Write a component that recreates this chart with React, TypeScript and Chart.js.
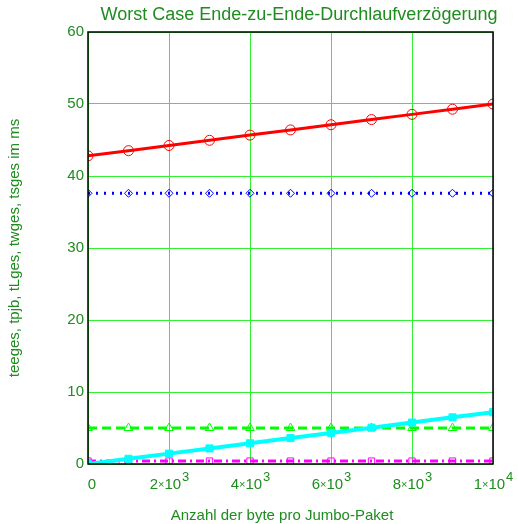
import React, { useEffect, useRef } from "react";
import { Chart, registerables } from "chart.js";
Chart.register(...registerables);

const xValues = [0, 1000, 2000, 3000, 4000, 5000, 6000, 7000, 8000, 9000, 10000];
const teeges = [42.8, 43.52, 44.24, 44.96, 45.68, 46.4, 47.12, 47.84, 48.56, 49.28, 50.0];
const tpjb = [37.6, 37.6, 37.6, 37.6, 37.6, 37.6, 37.6, 37.6, 37.6, 37.6, 37.6];
const tLges = [5.0, 5.0, 5.0, 5.0, 5.0, 5.0, 5.0, 5.0, 5.0, 5.0, 5.0];
const twges = [0, 0.72, 1.44, 2.16, 2.88, 3.6, 4.32, 5.04, 5.76, 6.48, 7.2];
const tsges = [0.4, 0.4, 0.4, 0.4, 0.4, 0.4, 0.4, 0.4, 0.4, 0.4, 0.4];

const xTickValues = [0, 2000, 4000, 6000, 8000, 10000];
const xTickMantissa = ["0", "2", "4", "6", "8", "1"];
const xTickExponent = ["", "3", "3", "3", "3", "4"];

const titleText = "Worst Case Ende-zu-Ende-Durchlaufverzögerung";
const xTitleText = "Anzahl der byte pro Jumbo-Paket";
const yTitleText = "teeges, tpjb, tLges, twges, tsges im ms";

const TEXT = "#1e8c1e";
const FONT = "'Liberation Sans', Arial, sans-serif";

const pts = (ys: number[]) => xValues.map((x, i) => ({ x, y: ys[i] }));

const decorPlugin = {
  id: "decor",
  afterDraw(chart: any) {
    const { ctx, chartArea } = chart;
    const xs = chart.scales.x;
    ctx.save();
    ctx.strokeStyle = "#000";
    ctx.lineWidth = 1.5;
    ctx.strokeRect(chartArea.left, chartArea.top, chartArea.right - chartArea.left, chartArea.bottom - chartArea.top);

    ctx.fillStyle = TEXT;
    ctx.textBaseline = "middle";
    ctx.textAlign = "center";
    ctx.font = `18px ${FONT}`;
    ctx.fillText(titleText, 299, 15);
    ctx.font = `15px ${FONT}`;
    ctx.fillText(xTitleText, 282, 516);
    ctx.save();
    ctx.translate(15, 248);
    ctx.rotate(-Math.PI / 2);
    ctx.fillText(yTitleText, 0, 0);
    ctx.restore();

    // x tick labels with exponent notation
    ctx.textAlign = "left";
    ctx.textBaseline = "alphabetic";
    xTickValues.forEach((v, i) => {
      const px = xs.getPixelForValue(v);
      const m = xTickMantissa[i];
      const e = xTickExponent[i];
      const baseY = 489;
      if (!e) {
        ctx.font = `15px ${FONT}`;
        const w = ctx.measureText(m).width;
        ctx.fillText(m, px - w / 2 + 4, baseY);
        return;
      }
      ctx.font = `15px ${FONT}`;
      const wm = ctx.measureText(m).width;
      ctx.font = `11px ${FONT}`;
      const wx = ctx.measureText("×").width;
      ctx.font = `15px ${FONT}`;
      const wt = ctx.measureText("10").width;
      ctx.font = `13px ${FONT}`;
      const we = ctx.measureText(e).width;
      const total = wm + wx + wt + we;
      let cx = px - total / 2;
      ctx.font = `15px ${FONT}`;
      ctx.fillText(m, cx, baseY);
      cx += wm;
      ctx.font = `11px ${FONT}`;
      ctx.fillText("×", cx, baseY - 1);
      cx += wx;
      ctx.font = `15px ${FONT}`;
      ctx.fillText("10", cx, baseY);
      cx += wt;
      ctx.font = `13px ${FONT}`;
      ctx.fillText(e, cx + 1, baseY - 8);
    });
    ctx.restore();
  },
};

export default function App() {
  const ref = useRef<HTMLCanvasElement>(null);
  useEffect(() => {
    if (!ref.current) return;
    const chart = new Chart(ref.current, {
      type: "line",
      data: {
        datasets: [
          {
            label: "teeges",
            data: pts(teeges),
            borderColor: "#ff0000",
            borderWidth: 3,
            pointStyle: "circle",
            pointRadius: 5,
            pointBorderWidth: 1,
            pointBorderColor: "#ff0000",
            pointBackgroundColor: "rgba(0,0,0,0)",
            clip: 0,
            order: 2,
          },
          {
            label: "tpjb",
            data: pts(tpjb),
            borderColor: "#0000ff",
            borderWidth: 3,
            borderDash: [2, 6],
            pointStyle: "rectRot",
            pointRadius: 4,
            pointBorderWidth: 1,
            pointBorderColor: "#0000ff",
            pointBackgroundColor: "rgba(0,0,0,0)",
            clip: 0,
            order: 3,
          },
          {
            label: "tLges",
            data: pts(tLges),
            borderColor: "#00ff00",
            borderWidth: 3,
            borderDash: [9, 5],
            pointStyle: "triangle",
            pointRadius: 5,
            pointBorderWidth: 1,
            pointBorderColor: "#00ff00",
            pointBackgroundColor: "rgba(0,0,0,0)",
            clip: 0,
            order: 4,
          },
          {
            label: "twges",
            data: pts(twges),
            borderColor: "#00ffff",
            borderWidth: 4,
            pointStyle: "rect",
            pointRadius: 5,
            pointBorderWidth: 1,
            pointBorderColor: "#00ffff",
            pointBackgroundColor: "#00ffff",
            clip: 0,
            order: 1,
          },
          {
            label: "tsges",
            data: pts(tsges),
            borderColor: "#ff00ff",
            borderWidth: 3,
            borderDash: [8, 4, 2, 4],
            pointStyle: "rect",
            pointRadius: 4.5,
            pointBorderWidth: 1,
            pointBorderColor: "#ff00ff",
            pointBackgroundColor: "rgba(0,0,0,0)",
            clip: 0,
            order: 5,
          },
        ],
      },
      options: {
        responsive: false,
        animation: false,
        devicePixelRatio: 1,
        layout: { padding: { top: 32, right: 25, left: 0, bottom: 0 } },
        plugins: { legend: { display: false }, tooltip: { enabled: false }, title: { display: false } },
        scales: {
          x: {
            type: "linear",
            min: 0,
            max: 10000,
            ticks: { stepSize: 2000, display: false },
            grid: { color: "#33f033", lineWidth: 1, drawTicks: false },
            border: { display: false },
            afterFit: (s: any) => {
              s.height = 60;
              s.paddingLeft = 0;
              s.paddingRight = 0;
            },
          },
          y: {
            min: 0,
            max: 60,
            ticks: { stepSize: 10, color: TEXT, font: { family: FONT, size: 15 }, padding: 4 },
            grid: { color: "#33f033", lineWidth: 1, drawTicks: false },
            border: { display: false },
            afterFit: (s: any) => {
              s.width = 88;
              s.paddingTop = 0;
              s.paddingBottom = 0;
            },
          },
        },
      },
      plugins: [decorPlugin],
    } as any);
    return () => chart.destroy();
  }, []);
  return (
    <div style={{ position: "absolute", left: 0, top: 0, width: 518, height: 524 }}>
      <canvas ref={ref} width={518} height={524} style={{ width: 518, height: 524, display: "block" }} />
    </div>
  );
}
